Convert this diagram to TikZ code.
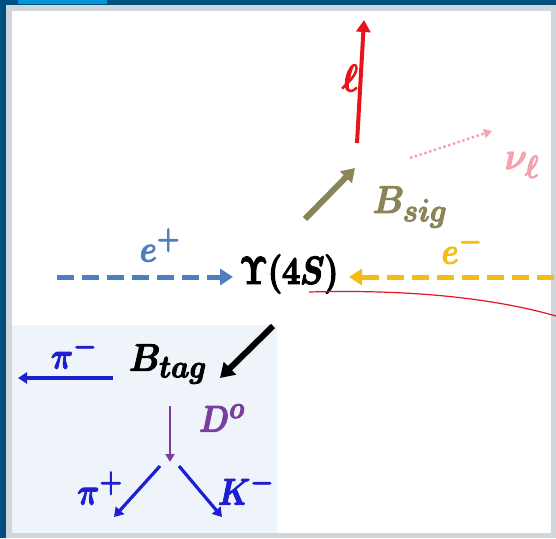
\documentclass[tikz,border=0pt]{standalone}
\usetikzlibrary{arrows.meta}
\definecolor{frameblue}{HTML}{00507F}
\definecolor{tabblue}{HTML}{0096D8}
\definecolor{framegray}{HTML}{CFD7DD}
\definecolor{tagbg}{HTML}{EEF4FA}
\definecolor{eplus}{HTML}{4D7EC0}
\definecolor{eminus}{HTML}{F5BC14}
\definecolor{olive}{HTML}{8A8457}
\definecolor{lepred}{HTML}{E8141C}
\definecolor{nupink}{HTML}{F2A3AE}
\definecolor{pionblue}{HTML}{1E1ED2}
\definecolor{dpurple}{HTML}{7A3E9E}
\newcommand{\heavy}[2]{\special{pdf:code 2 Tr #1 w}#2\special{pdf:code 0 Tr}}
\newcommand{\lblsz}[1]{\scalebox{1.4}[1.55]{\heavy{0.6}{\Huge\boldmath$#1$}}}
\newcommand{\supsz}[1]{\scalebox{1.25}[1.5]{\heavy{0.6}{\Huge\boldmath$#1$}}}
\newcommand{\bigsz}[1]{\scalebox{1.3}[1.55]{\heavy{1.0}{\Huge\boldmath$#1$}}}
\tikzset{
  lbl/.style={inner sep=0pt},
  arr/.style={line width=4pt, -{Triangle[length=12pt,width=14pt]}},
  thinarr/.style={line width=3.2pt, -{Triangle[length=9pt,width=11pt]}},
  dasharr/.style={line width=5pt, dash pattern=on 17pt off 8pt, -{Triangle[length=13pt,width=16pt]}},
}
\begin{document}
\begin{tikzpicture}[x=1pt,y=-1pt]
\useasboundingbox (0,0) rectangle (556,538);
% frame
\fill[frameblue] (0,0) rectangle (556,538);
\fill[tabblue] (18,0) rectangle (107,4);
\fill[framegray] (6,5) rectangle (556,538);
\fill[white] (12,11) rectangle (551,533);
\fill[tagbg] (12,325) rectangle (277,533);
% coordinates
\coordinate (lepS) at (357,143);
\coordinate (lepE) at (364,20);
\coordinate (nuS) at (410,158);
\coordinate (nuE) at (492,131);
\coordinate (sigS) at (305,219);
\coordinate (sigE) at (355,168);
\coordinate (epS) at (57,277);
\coordinate (epE) at (233,277);
\coordinate (emS) at (554,277);
\coordinate (emE) at (349,277);
\coordinate (tagS) at (273,326);
\coordinate (tagE) at (220,378);
\coordinate (pimS) at (113,378);
\coordinate (pimE) at (18,378);
\coordinate (dS) at (170,406);
\coordinate (dE) at (170,462);
\coordinate (pipS) at (160,466);
\coordinate (pipE) at (114,517);
\coordinate (kS) at (179,466);
\coordinate (kE) at (222,517);
\coordinate (curveS) at (309,292);
\coordinate (curveE) at (556,316);
% nodes
\node[lbl] (ups) at (289,274) {\bigsz{\Upsilon(4S)}};
\node[lbl, text=eplus] (ep) at (160,245) {\supsz{e^{+}}};
\node[lbl, text=eminus] (em) at (462,247) {\supsz{e^{-}}};
\node[lbl, text=olive] (bsig) at (410,207) {\lblsz{B_{sig}}};
\node[lbl, text=lepred] (lep) at (350,78) {\lblsz{\ell}};
\node[lbl, text=nupink] (nu) at (522,165) {\lblsz{\nu_{\ell}}};
\node[lbl] (btag) at (168,364) {\lblsz{B_{tag}}};
\node[lbl, text=pionblue] (pim) at (74,352) {\supsz{\pi^{-}}};
\node[lbl, text=dpurple] (d0) at (222,418) {\supsz{D^{o}}};
\node[lbl, text=pionblue] (pip) at (100,488) {\supsz{\pi^{+}}};
\node[lbl, text=pionblue] (km) at (246,488) {\supsz{K^{-}}};
% connectors
\draw[dasharr, eplus] (epS) -- (epE);
\draw[dasharr, eminus] (emS) -- (emE);
\draw[arr, lepred] (lepS) -- (lepE);
\draw[line width=2.4pt, nupink, dash pattern=on 2.5pt off 2.5pt, -{Triangle[length=8pt,width=9pt]}] (nuS) -- (nuE);
\draw[line width=6pt, olive, -{Triangle[length=13pt,width=16pt]}] (sigS) -- (sigE);
\draw[line width=6pt, black, -{Triangle[length=14pt,width=17pt]}] (tagS) -- (tagE);
\draw[thinarr, pionblue] (pimS) -- (pimE);
\draw[line width=2.6pt, dpurple, -{Triangle[length=8pt,width=9pt]}] (dS) -- (dE);
\draw[thinarr, pionblue] (pipS) -- (pipE);
\draw[thinarr, pionblue] (kS) -- (kE);
\draw[lepred, line width=1.2pt] (curveS) .. controls (420,289) and (500,300) .. (curveE);
\end{tikzpicture}
\end{document}
